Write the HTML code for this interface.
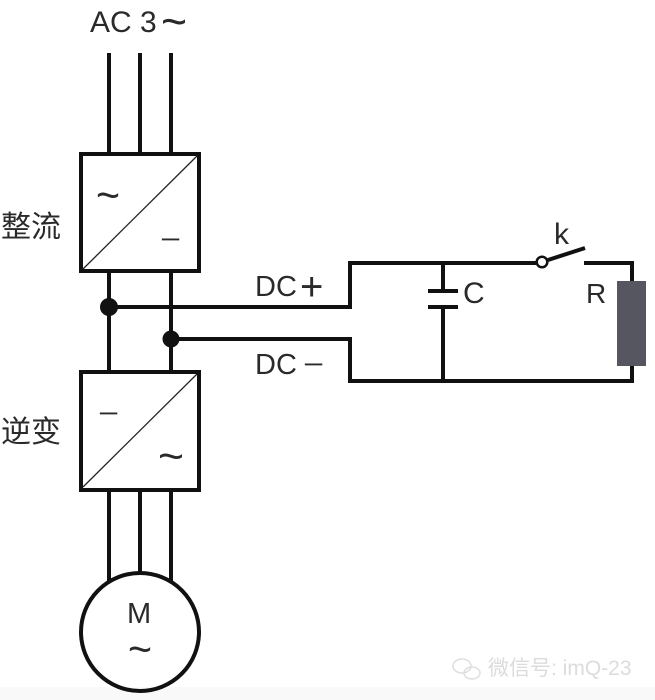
<!DOCTYPE html>
<html>
<head>
<meta charset="utf-8">
<style>
html,body{margin:0;padding:0;background:#fff;width:655px;height:700px;overflow:hidden}
svg{display:block}
text{font-family:"Liberation Sans","Noto Sans CJK SC",sans-serif;fill:#2a2a2a}
</style>
</head>
<body>
<svg width="655" height="700" viewBox="0 0 655 700" xmlns="http://www.w3.org/2000/svg">
<rect x="0" y="0" width="655" height="700" fill="#fff"/>
<rect x="0" y="687" width="655" height="13" fill="#f9f9f9"/>
<g stroke="#111" stroke-width="4" fill="none">
  <path d="M109 53V154M140 53V154M171 53V154"/>
  <path d="M109 272V372M171 272V372"/>
  <path d="M109 490V582M140 490V573M171 490V582"/>
  <rect x="81" y="154" width="118" height="117"/>
  <rect x="81" y="372" width="118" height="118"/>
  <circle cx="140" cy="632" r="59"/>
  <path d="M109 307H350V263H536M548 260L585 248M584 263H632V381H350V339H171"/>
  <path d="M443 263V291M443 307V381"/>
  <path d="M428 291H458M428 307H458"/>
</g>
<g stroke="#222" stroke-width="1.3" fill="none">
  <path d="M83 269L197 156"/>
  <path d="M83 487L197 374"/>
</g>
<circle cx="109" cy="307" r="9" fill="#111"/>
<circle cx="171" cy="339" r="8.5" fill="#111"/>
<circle cx="542" cy="262" r="5.3" fill="#fff" stroke="#111" stroke-width="2.5"/>
<rect x="617" y="281" width="29" height="85" fill="#55565f"/>

<text x="90" y="32" font-size="30">AC 3</text>
<text x="161" y="37" font-size="46" textLength="26" lengthAdjust="spacingAndGlyphs">~</text>
<text x="1" y="237" font-size="30">整流</text>
<text x="1" y="442" font-size="30">逆变</text>
<text x="96" y="210" font-size="44" textLength="24" lengthAdjust="spacingAndGlyphs">~</text>
<text x="160" y="248" font-size="26" textLength="21" lengthAdjust="spacingAndGlyphs">−</text>
<text x="98" y="422" font-size="26" textLength="21" lengthAdjust="spacingAndGlyphs">−</text>
<text x="158" y="471" font-size="44" textLength="26" lengthAdjust="spacingAndGlyphs">~</text>
<text x="127" y="623" font-size="29">M</text>
<text x="128" y="664" font-size="44" textLength="24" lengthAdjust="spacingAndGlyphs">~</text>
<text x="255" y="296" font-size="29">DC</text>
<text x="300" y="300" font-size="40">+</text>
<text x="255" y="374" font-size="29">DC</text>
<text x="303" y="373" font-size="26" textLength="21" lengthAdjust="spacingAndGlyphs">−</text>
<text x="463" y="303" font-size="30">C</text>
<text x="554" y="244" font-size="30">k</text>
<text x="586" y="303" font-size="28">R</text>
<g>
  <text x="488" y="675" font-size="21" style="fill:#dcdcdc">微信号: imQ-23</text>
  <ellipse cx="462" cy="666" rx="9" ry="7" fill="none" stroke="#dedede" stroke-width="1.5"/>
  <ellipse cx="472" cy="673" rx="8" ry="6" fill="none" stroke="#dedede" stroke-width="1.5"/>
</g>
</svg>
</body>
</html>
